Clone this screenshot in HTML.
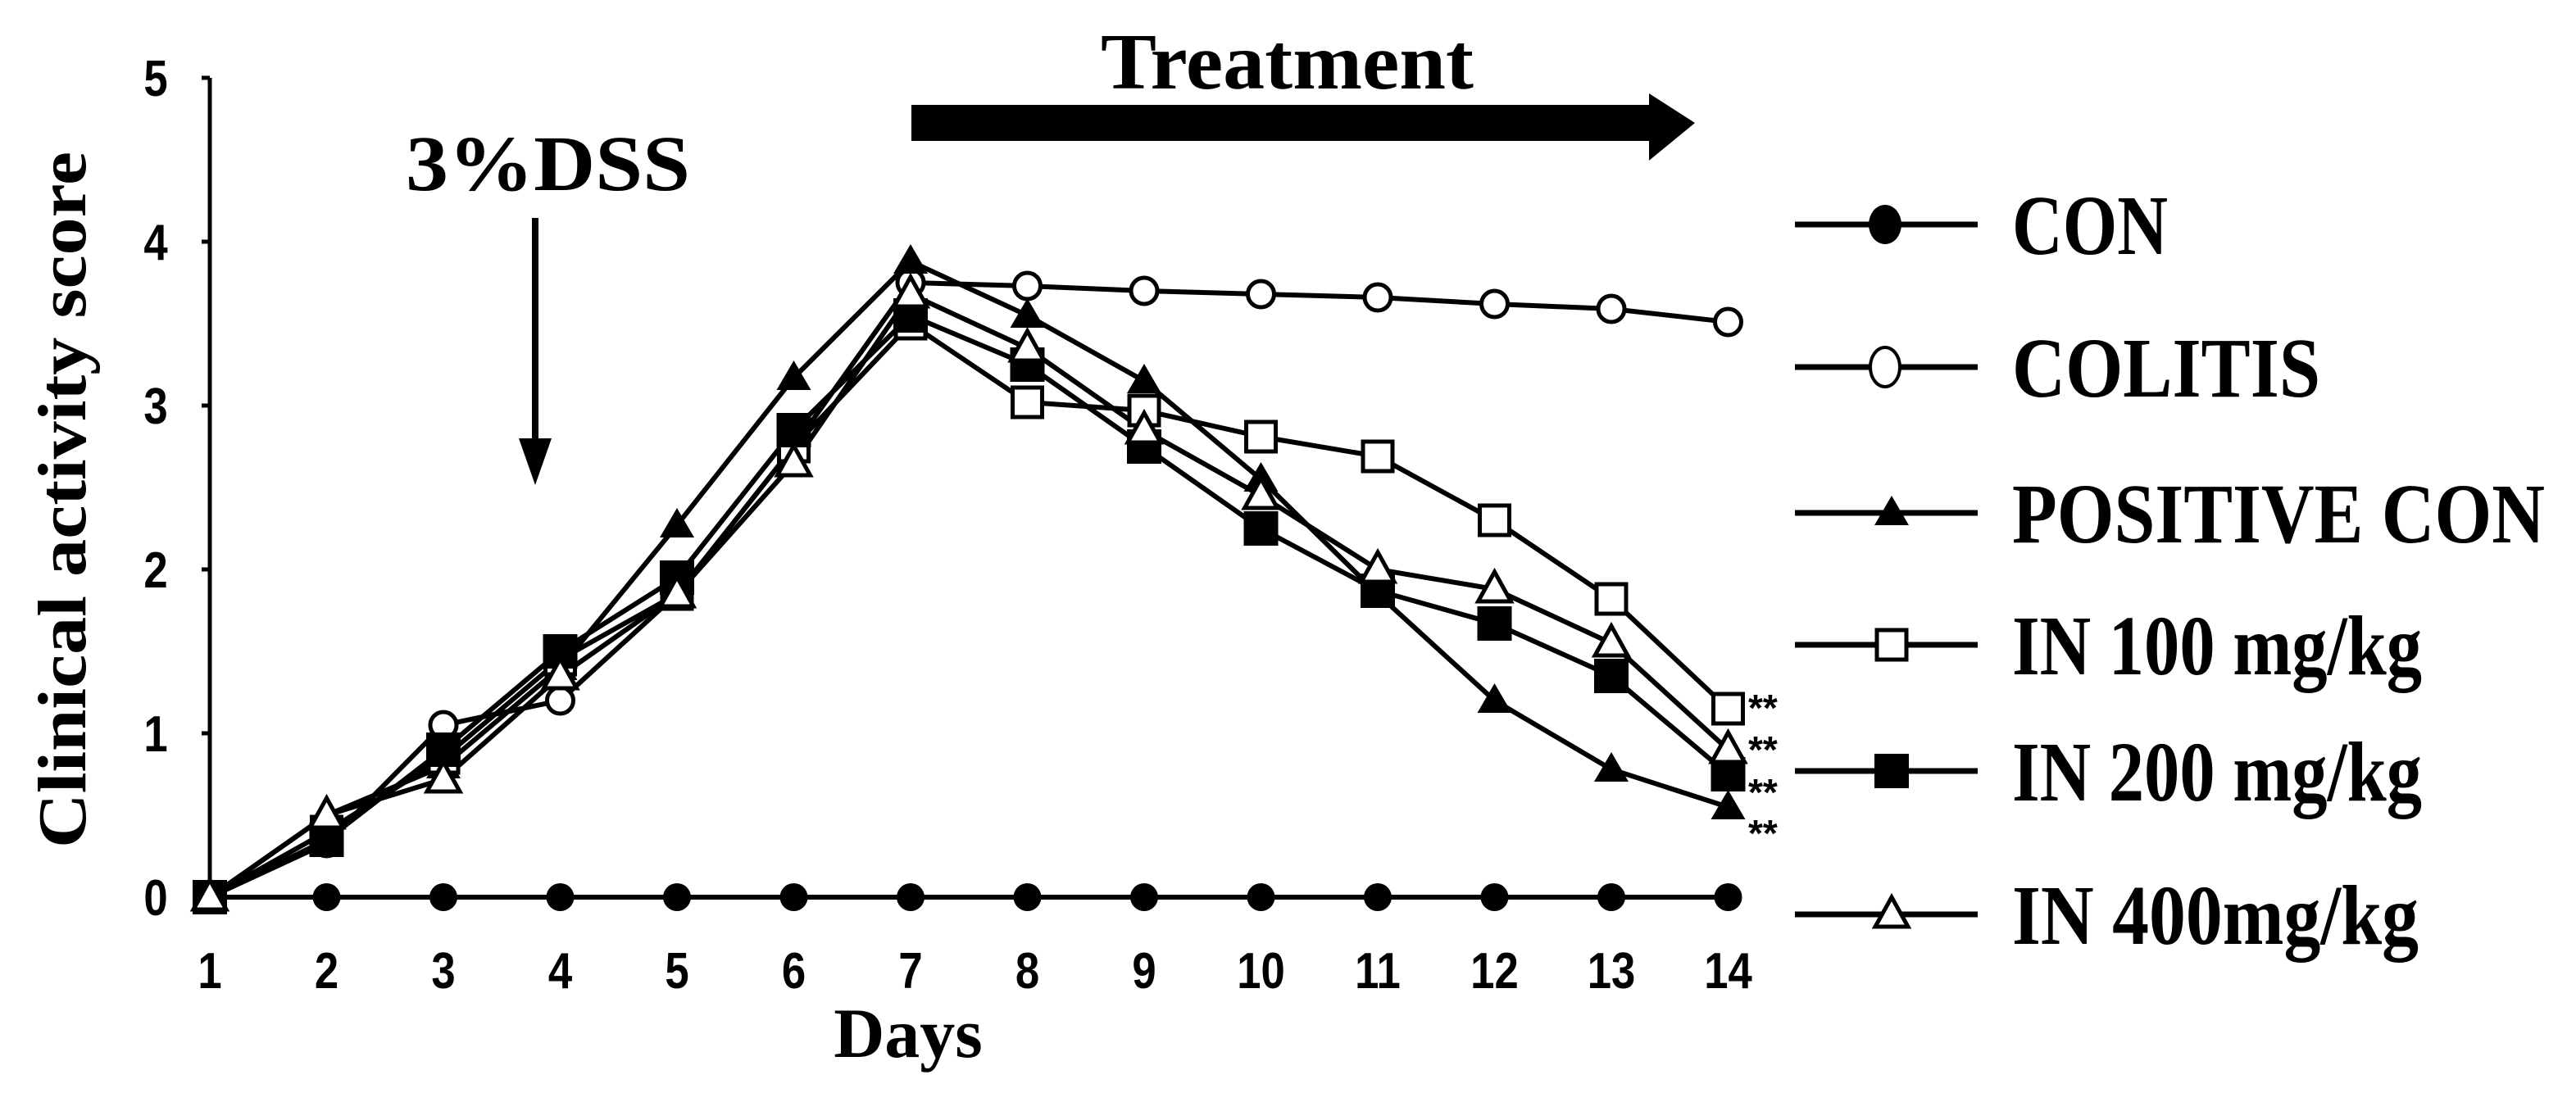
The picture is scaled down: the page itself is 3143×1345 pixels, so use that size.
<!DOCTYPE html>
<html><head><meta charset="utf-8"><style>
html,body{margin:0;padding:0;background:#fff;}
svg{display:block;}
text{font-family:"Liberation Serif",serif;font-weight:bold;fill:#000;}
.sans{font-family:"Liberation Sans",sans-serif;}
</style></head><body>
<svg id="chart" width="3143" height="1345" viewBox="0 0 3143 1345" xmlns="http://www.w3.org/2000/svg">
<g id="axes"></g>
<g id="series"></g>
<g id="legend"></g>
<g>
<text x="495" y="232" font-size="96" textLength="347" lengthAdjust="spacingAndGlyphs">3%DSS</text>
<line x1="653" y1="266" x2="653" y2="540" stroke="#000" stroke-width="8"/>
<polygon points="633,535 673,535 653,592" fill="#000"/>
<text x="1343" y="108" font-size="98" textLength="455" lengthAdjust="spacingAndGlyphs">Treatment</text>
<polygon points="1112,128 2012,128 2012,114 2068,150 2012,196 2012,172 1112,172" fill="#000"/>
<text x="2133" y="880" font-size="46" class="sans">**</text>
<text x="2133" y="931" font-size="46" class="sans">**</text>
<text x="2133" y="983" font-size="46" class="sans">**</text>
<text x="2133" y="1033" font-size="46" class="sans">**</text>
</g>
</svg>
<script>
const days=[1,2,3,4,5,6,7,8,9,10,11,12,13,14];
const yTicks=[0,1,2,3,4,5];
const seriesNames=["CON","COLITIS","POSITIVE CON","IN 100 mg/kg","IN 200 mg/kg","IN 400mg/kg"];
const conVals=[0,0,0,0,0,0,0,0,0,0,0,0,0,0];
const colitisVals=[0,0.33,1.05,1.2,1.85,2.75,3.75,3.73,3.7,3.68,3.66,3.62,3.59,3.51];
const positiveVals=[0,0.5,0.8,1.4,2.27,3.17,3.88,3.55,3.15,2.55,1.85,1.2,0.78,0.55];
const in100Vals=[0,0.4,0.85,1.45,1.85,2.75,3.5,3.02,2.97,2.81,2.69,2.3,1.82,1.15];
const in200Vals=[0,0.35,0.9,1.5,1.95,2.85,3.55,3.25,2.75,2.25,1.87,1.67,1.35,0.75];
const in400Vals=[0,0.5,0.72,1.35,1.85,2.65,3.68,3.35,2.85,2.45,2.0,1.88,1.55,0.9];
const markers=["circleFilled","circleOpen","triFilled","squareOpen","squareFilled","triOpen"];
const allVals=[conVals,colitisVals,positiveVals,in100Vals,in200Vals,in400Vals];
const legendWidths=[190,376,650,500,500,496];

const NS="http://www.w3.org/2000/svg";
const X0=256,DX=142.5,Y0=1095,DY=200;
const xs=d=>X0+(d-1)*DX;
const ys=v=>Y0-v*DY;
function mk(tag,attrs,parent){const e=document.createElementNS(NS,tag);for(const k in attrs)e.setAttribute(k,attrs[k]);parent.appendChild(e);return e;}

const axes=document.getElementById('axes');
const yAxis=mk('line',{x1:X0,y1:ys(5),x2:X0,y2:Y0,stroke:'#000','stroke-width':5},axes);


yTicks.forEach(t=>{
  const tk=mk('line',{x1:X0-10,y1:ys(t),x2:X0,y2:ys(t),stroke:'#000','stroke-width':5},axes);
  
  
  const lb=mk('text',{x:190,y:ys(t)+22,'font-size':62,'text-anchor':'middle',class:'sans',transform:`translate(190,0) scale(0.85,1) translate(-190,0)`},axes);
  lb.textContent=t;
  
  
});
days.forEach(d=>{
  const lb=mk('text',{x:xs(d),y:1206,'font-size':62,'text-anchor':'middle',class:'sans',transform:`translate(${xs(d)},0) scale(0.85,1) translate(${-xs(d)},0)`},axes);
  lb.textContent=d;
  
  
});
const xt=mk('text',{x:1108,y:1290,'font-size':86,'text-anchor':'middle'},axes);
xt.textContent='Days';


const yt=mk('text',{x:0,y:0,'font-size':84,'text-anchor':'middle',transform:'translate(104,610) rotate(-90)',textLength:850,lengthAdjust:'spacingAndGlyphs'},axes);
yt.textContent='Clinical  activity score';



function marker(type,x,y,parent){
  let e;
  if(type==='circleFilled')e=mk('circle',{cx:x,cy:y,r:17,fill:'#000'},parent);
  else if(type==='circleOpen')e=mk('circle',{cx:x,cy:y,r:16,fill:'#fff',stroke:'#000','stroke-width':5},parent);
  else if(type==='squareOpen')e=mk('rect',{x:x-18,y:y-18,width:36,height:36,fill:'#fff',stroke:'#000','stroke-width':5},parent);
  else if(type==='squareFilled')e=mk('rect',{x:x-21,y:y-21,width:42,height:42,fill:'#000'},parent);
  else if(type==='triFilled')e=mk('polygon',{points:`${x},${y-21} ${x+21},${y+15} ${x-21},${y+15}`,fill:'#000'},parent);
  else e=mk('polygon',{points:`${x},${y-21} ${x+20},${y+15} ${x-20},${y+15}`,fill:'#fff',stroke:'#000','stroke-width':5},parent);
  return e;
}

const sg=document.getElementById('series');
allVals.forEach((vals,i)=>{
  const g=mk('g',{},sg);
  
  
  const pts=vals.map((v,j)=>xs(days[j])+','+ys(v)).join(' ');
  const pl=mk('polyline',{points:pts,fill:'none',stroke:'#000','stroke-width':6},g);
  
  
});
allVals.forEach((vals,i)=>{
  vals.forEach((v,j)=>{
    const m=marker(markers[i],xs(days[j]),ys(v),sg);
    
    
  });
});

const lg=document.getElementById('legend');
const legY=[274,448,626,787,941,1116];
seriesNames.forEach((n,i)=>{
  const g=mk('g',{},lg);
  
  
  mk('line',{x1:2190,y1:legY[i],x2:2413,y2:legY[i],stroke:'#000','stroke-width':7},g);
  let mm;
  if(i===0)mm=mk('ellipse',{cx:2300,cy:legY[i],rx:20,ry:24,fill:'#000'},g);
  else if(i===1)mm=mk('ellipse',{cx:2300,cy:legY[i],rx:18,ry:24,fill:'#fff',stroke:'#000','stroke-width':4},g);
  else mm=marker(markers[i],2308,legY[i],g);
  
  
  const t=mk('text',{x:2455,y:legY[i]+36,'font-size':104,textLength:legendWidths[i],lengthAdjust:'spacingAndGlyphs'},g);
  t.textContent=n;
  
  
});
</script>
</body></html>
